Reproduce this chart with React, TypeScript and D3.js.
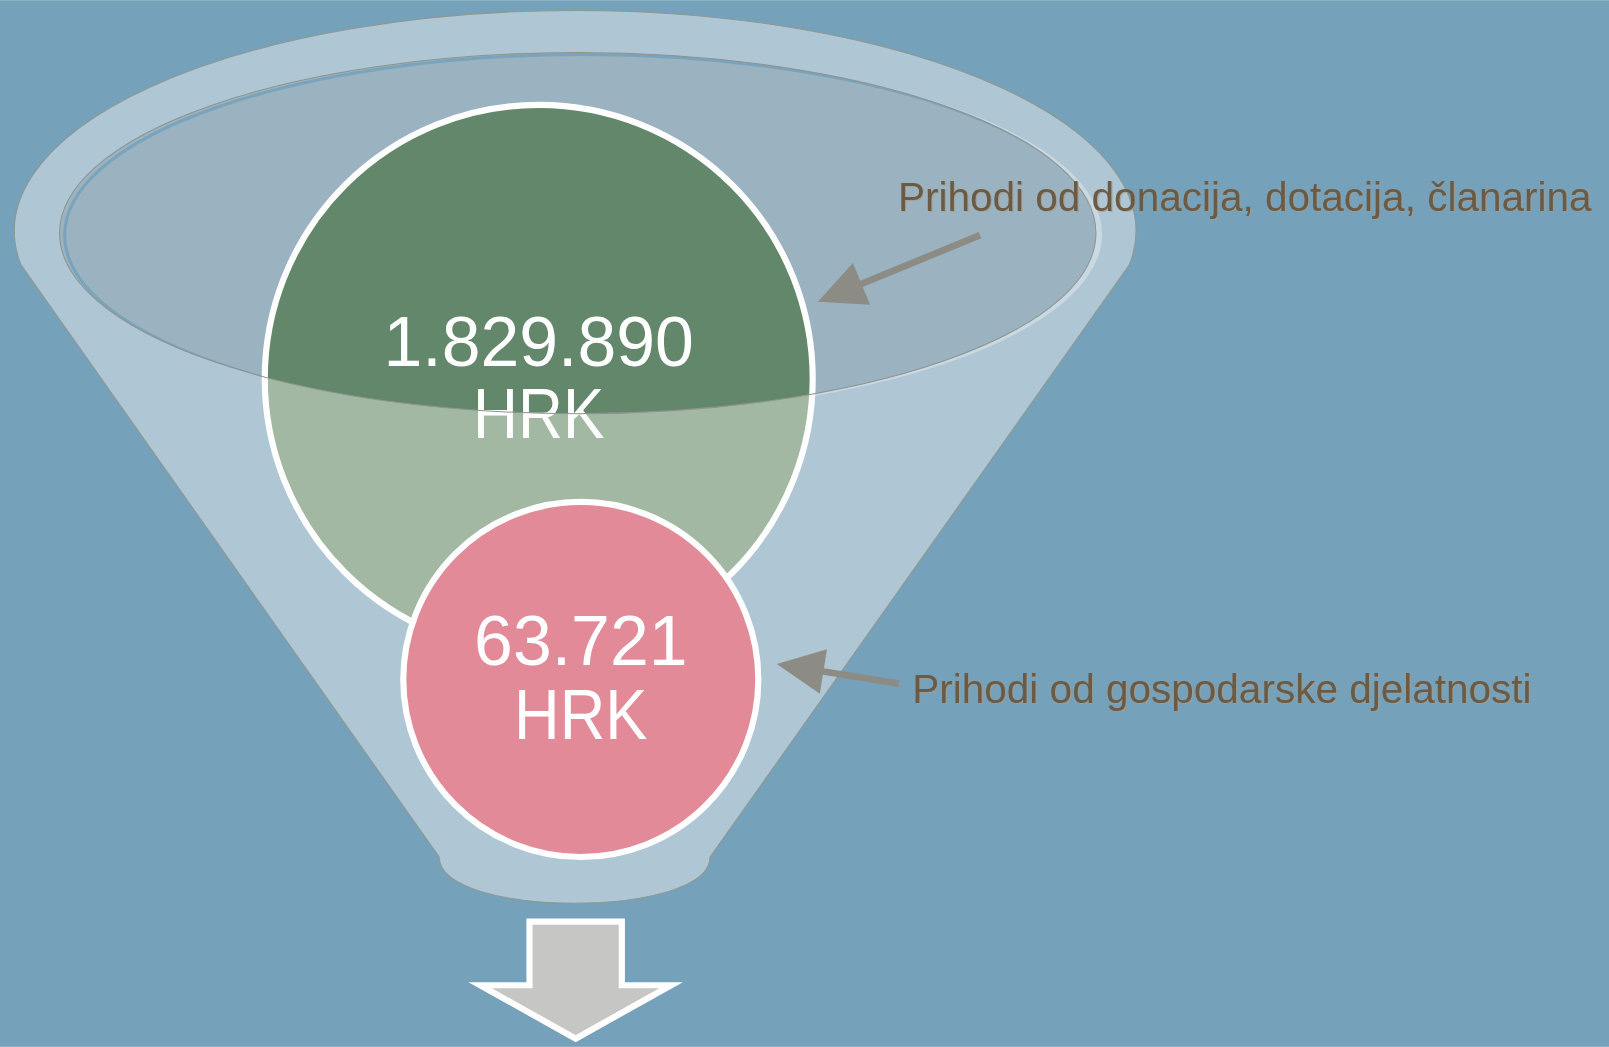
import * as d3 from "d3";

// categories and values (HRK)
const categories = [
  "Prihodi od donacija, dotacija, članarina",
  "Prihodi od gospodarske djelatnosti",
];
const values = [1829890, 63721];
const unit = "HRK";

const W = 1568;
const H = 1020;

const circleFill = ["#a2b8a2", "#e38a98"];
const circleFillDark = "#62876a";

// hr number format: 1.829.890
const hr = d3.formatLocale({
  decimal: ",",
  thousands: ".",
  grouping: [3],
  currency: ["", " HRK"],
});
const fmt = hr.format(",d");

export default function App() {
  // circle sizes come from the values (log scale, like the original SmartArt look)
  const rScale = d3
    .scaleLog()
    .domain([d3.min(values)!, d3.max(values)!])
    .range([173, 267]);
  const cx = d3.scaleOrdinal<string, number>().domain(categories).range([525, 566]);
  const cy = d3.scalePoint<string>().domain(categories).range([369, 662]);
  const labelX = d3.scaleOrdinal<string, number>().domain(categories).range([875, 889]);
  const labelY = d3.scaleOrdinal<string, number>().domain(categories).range([205, 685]);
  // arrows: [start of shaft, tip]
  const arrowPts = d3
    .scaleOrdinal<string, number[][]>()
    .domain(categories)
    .range([
      [
        [955, 229],
        [797, 294],
      ],
      [
        [876, 666],
        [757, 647],
      ],
    ]);

  // funnel outline
  const fx = 560.5,
    fcy = 225,
    frx = 546.5,
    fry = 215;
  const yJoin = 258;
  const dx = frx * Math.sqrt(1 - ((yJoin - fcy) / fry) ** 2);
  const funnelD =
    `M${fx - dx},${yJoin} A${frx},${fry} 0 1 1 ${fx + dx},${yJoin} ` +
    `L692,835 C692,895 428,895 428,835 Z`;

  // inner rim ellipse
  const ie = { cx: 563, cy: 227, rx: 505, ry: 176 };

  const arrowPath = (p: number[][]) => {
    const [s, t] = p;
    const ang = Math.atan2(t[1] - s[1], t[0] - s[0]);
    const headLen = 46,
      headW = 22,
      shaftW = 3.3;
    const ux = Math.cos(ang),
      uy = Math.sin(ang);
    const nx = -uy,
      ny = ux;
    const bx = t[0] - ux * headLen,
      by = t[1] - uy * headLen;
    const pts = [
      [s[0] + nx * shaftW, s[1] + ny * shaftW],
      [bx + nx * shaftW, by + ny * shaftW],
      [bx + nx * headW, by + ny * headW],
      [t[0], t[1]],
      [bx - nx * headW, by - ny * headW],
      [bx - nx * shaftW, by - ny * shaftW],
      [s[0] - nx * shaftW, s[1] - ny * shaftW],
    ] as [number, number][];
    return d3.line()(pts) + "Z";
  };

  // bottom output arrow
  const downArrow = d3.line()([
    [516, 898],
    [606, 898],
    [606, 960],
    [654, 960],
    [561, 1012],
    [468, 960],
    [516, 960],
  ] as [number, number][]) + "Z";

  const big = categories[0];
  const small = categories[1];

  return (
    <svg
      width={1609}
      height={1047}
      viewBox={`0 0 ${W} ${H}`}
      style={{ position: "fixed", left: 0, top: 0, display: "block" }}
      fontFamily="'Liberation Sans', Arial, sans-serif"
    >
      <defs>
        <clipPath id="rimClip">
          <ellipse cx={ie.cx} cy={ie.cy} rx={ie.rx} ry={ie.ry} />
        </clipPath>
      </defs>
      <rect width={W} height={H} fill="#75a1ba" />

      {/* funnel */}
      <path d={funnelD} fill="#afc6d5" stroke="#8e9890" strokeWidth={1} />
      <ellipse cx={ie.cx + 6} cy={ie.cy + 1} rx={ie.rx} ry={ie.ry} fill="#c9d8e1" />
      <ellipse cx={ie.cx} cy={ie.cy} rx={ie.rx} ry={ie.ry} fill="#9bb3c1" />
      <g clipPath="url(#rimClip)">
        <ellipse
          cx={ie.cx + 5}
          cy={ie.cy + 2}
          rx={ie.rx}
          ry={ie.ry}
          fill="none"
          stroke="#7aa3bc"
          strokeWidth={3}
        />
      </g>

      {/* big circle */}
      <circle cx={cx(big)} cy={cy(big)} r={rScale(values[0])} fill={circleFill[0]} />
      <g clipPath="url(#rimClip)">
        <circle cx={cx(big)} cy={cy(big)} r={rScale(values[0])} fill={circleFillDark} />
      </g>
      <circle
        cx={cx(big)}
        cy={cy(big)}
        r={rScale(values[0])}
        fill="none"
        stroke="#fff"
        strokeWidth={6}
      />

      {/* small circle */}
      <circle
        cx={cx(small)}
        cy={cy(small)}
        r={rScale(values[1])}
        fill={circleFill[1]}
        stroke="#fff"
        strokeWidth={6}
      />

      {categories.map((c, i) => (
        <g key={"v" + i} fill="#fff" textAnchor="middle" fontSize={68}>
          <text x={cx(c)} y={cy(c)! - (i === 0 ? 12 : 14)}>
            {fmt(values[i])}
          </text>
          <text x={cx(c)} y={cy(c)! + 58} textLength={i === 0 ? 128 : 130} lengthAdjust="spacingAndGlyphs">
            {unit}
          </text>
        </g>
      ))}

      {/* rim outline on top */}
      <ellipse
        cx={ie.cx}
        cy={ie.cy}
        rx={ie.rx}
        ry={ie.ry}
        fill="none"
        stroke="#8d948f"
        strokeWidth={1}
      />

      {/* labels + arrows */}
      {categories.map((c, i) => (
        <g key={"l" + i}>
          <path d={arrowPath(arrowPts(c))} fill="#8c8c85" />
          <text x={labelX(c)! + 1.2} y={labelY(c)! + 1.2} fontSize={39.5} fill="#a59c8c" opacity={0.7}>
            {c}
          </text>
          <text x={labelX(c)} y={labelY(c)} fontSize={39.5} fill="#6b5b45">
            {c}
          </text>
        </g>
      ))}

      {/* output arrow */}
      <path d={downArrow} fill="#c6c6c4" stroke="#fff" strokeWidth={6} strokeLinejoin="miter" />
    </svg>
  );
}
